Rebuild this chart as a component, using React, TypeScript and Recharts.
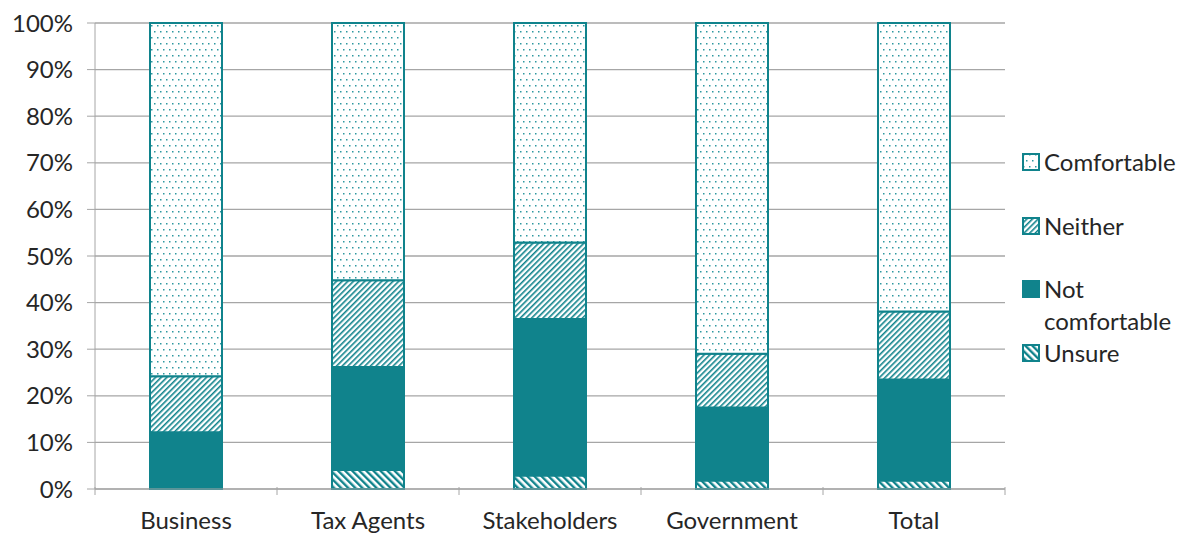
import React from 'react';
import { BarChart, Bar, XAxis, YAxis, CartesianGrid } from 'recharts';

const categories = ['Business', 'Tax Agents', 'Stakeholders', 'Government', 'Total'];
const unsure = [0, 4.1, 2.9, 1.8, 1.8];
const notComfortable = [12.2, 22.1, 33.6, 15.7, 21.7];
const neither = [12.0, 18.6, 16.4, 11.5, 14.6];
const comfortable = [75.8, 55.2, 47.1, 71.0, 61.9];
const yTicks = [0, 10, 20, 30, 40, 50, 60, 70, 80, 90, 100];

const data = categories.map((name, i) => ({
    name,
    Unsure: unsure[i],
    'Not comfortable': notComfortable[i],
    Neither: neither[i],
    Comfortable: comfortable[i],
}));

const TEAL = '#10838c';
const GRID = '#a6a6a6';
const FONT = 'Lato, "Open Sans", sans-serif';

const W = 1179;
const H = 536;
const PLOT_LEFT = 95;
const PLOT_RIGHT = 1005;
const HALF_BAND = (PLOT_RIGHT - PLOT_LEFT) / categories.length / 2;

// legend rows, top of each row in px
const legendItems = [
    { label: 'Comfortable', fill: 'url(#dots)', lines: ['Comfortable'], top: 146 },
    { label: 'Neither', fill: 'url(#fwd)', lines: ['Neither'], top: 210 },
    { label: 'Not comfortable', fill: TEAL, lines: ['Not', 'comfortable'], top: 273 },
    { label: 'Unsure', fill: 'url(#back)', lines: ['Unsure'], top: 337 },
];

const XTick = (props: any) => {
    const { x, y, payload, index } = props;
    const top = y - 2;
    return (
        <g>
            <line x1={x - HALF_BAND} x2={x - HALF_BAND} y1={top - 8} y2={top} stroke={GRID} />
            {index === categories.length - 1 && (
                <line x1={x + HALF_BAND} x2={x + HALF_BAND} y1={top - 8} y2={top} stroke={GRID} />
            )}
            <text x={x} y={top + 34} textAnchor="middle" fill="#262626" fontSize={24} fontFamily={FONT}>
                {payload.value}
            </text>
        </g>
    );
};

const LegendBox = () => (
    <div style={{ position: 'absolute', left: 1022, top: 0, fontFamily: FONT, fontSize: 24, color: '#262626' }}>
        {legendItems.map((it) => (
            <div key={it.label} style={{ position: 'absolute', top: it.top, left: 0, display: 'flex', alignItems: 'flex-start', whiteSpace: 'nowrap' }}>
                <svg width={18} height={18} style={{ marginTop: 7, marginRight: 4, flexShrink: 0 }}>
                    <rect x={1} y={1} width={16} height={16} fill={it.fill} stroke={TEAL} strokeWidth={2} />
                </svg>
                <div style={{ lineHeight: '32px' }}>
                    {it.lines.map((l) => (
                        <div key={l}>{l}</div>
                    ))}
                </div>
            </div>
        ))}
    </div>
);

const App = () => {
    return (
        <div style={{ position: 'absolute', left: 0, top: 0, width: W, height: H, background: '#fff', overflow: 'hidden' }}>
            <svg width={0} height={0} style={{ position: 'absolute' }}>
                <defs>
                    <pattern id="dots" width={6} height={12} patternUnits="userSpaceOnUse">
                        <rect width={6} height={12} fill="#fff" />
                        <rect x={1} y={1} width={1.5} height={1.5} fill="#2e98a0" />
                        <rect x={4} y={7} width={1.5} height={1.5} fill="#2e98a0" />
                    </pattern>
                    <pattern id="fwd" width={4} height={4} patternUnits="userSpaceOnUse" patternTransform="rotate(45)">
                        <rect width={4} height={4} fill="#fff" />
                        <rect x={0} y={0} width={1.6} height={4} fill={TEAL} />
                    </pattern>
                    <pattern id="back" width={5} height={5} patternUnits="userSpaceOnUse" patternTransform="rotate(-45)">
                        <rect width={5} height={5} fill="#fff" />
                        <rect x={0} y={0} width={2.4} height={5} fill={TEAL} />
                    </pattern>
                </defs>
            </svg>
            <BarChart
                width={W}
                height={H}
                data={data}
                margin={{ top: 23, right: W - PLOT_RIGHT, left: PLOT_LEFT - 85, bottom: 7 }}
                barSize={72}
            >
                <CartesianGrid vertical={false} stroke={GRID} strokeWidth={1.3} />
                <XAxis
                    dataKey="name"
                    axisLine={{ stroke: GRID }}
                    tickLine={false}
                    height={40}
                    tick={<XTick />}
                    interval={0}
                />
                <YAxis
                    width={85}
                    domain={[0, 100]}
                    ticks={yTicks}
                    tickFormatter={(v: number) => `${v}%`}
                    axisLine={{ stroke: GRID }}
                    tickLine={{ stroke: GRID }}
                    tickSize={8}
                    tickMargin={14}
                    tick={{ fill: '#262626', fontSize: 24, fontFamily: FONT }}
                    interval={0}
                />
                <Bar dataKey="Unsure" stackId="a" fill="url(#back)" stroke={TEAL} strokeWidth={2} isAnimationActive={false} />
                <Bar dataKey="Not comfortable" stackId="a" fill={TEAL} stroke={TEAL} strokeWidth={2} isAnimationActive={false} />
                <Bar dataKey="Neither" stackId="a" fill="url(#fwd)" stroke={TEAL} strokeWidth={2} isAnimationActive={false} />
                <Bar dataKey="Comfortable" stackId="a" fill="url(#dots)" stroke={TEAL} strokeWidth={2} isAnimationActive={false} />
            </BarChart>
            <LegendBox />
        </div>
    );
};

export default App;
